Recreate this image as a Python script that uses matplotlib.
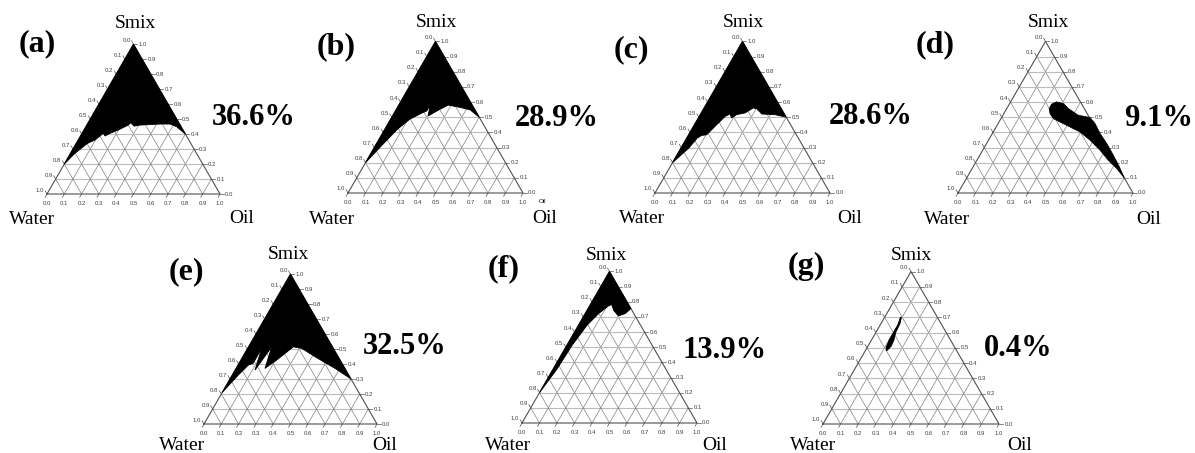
import numpy as np
import matplotlib
matplotlib.use("Agg")
import matplotlib.pyplot as plt
from matplotlib.patches import Polygon

# ---------------- data (ternary compositions: (Smix fraction, Oil fraction)) ----------------
panel_letters = ["(a)", "(b)", "(c)", "(d)", "(e)", "(f)", "(g)"]
percent_labels = ["36.6%", "28.9%", "28.6%", "9.1%", "32.5%", "13.9%", "0.4%"]
axis_ticks = [0.0, 0.1, 0.2, 0.3, 0.4, 0.5, 0.6, 0.7, 0.8, 0.9, 1.0]

region_a = [(1.0, 0.0), (0.20, 0.0), (0.27, 0.025), (0.338, 0.065), (0.36, 0.097), (0.405, 0.123),
            (0.387, 0.142), (0.405, 0.162), (0.427, 0.198), (0.46, 0.24), (0.475, 0.246),
            (0.453, 0.277), (0.46, 0.308), (0.467, 0.42), (0.467, 0.478), (0.449, 0.525),
            (0.40, 0.60)]
region_b = [(1.0, 0.0), (0.20, 0.0), (0.31, 0.035), (0.42, 0.072), (0.487, 0.11), (0.527, 0.158),
            (0.542, 0.18), (0.58, 0.179), (0.509, 0.204), (0.553, 0.25), (0.58, 0.283),
            (0.565, 0.357), (0.549, 0.423), (0.50, 0.50)]
region_c = [(1.0, 0.0), (0.20, 0.0), (0.296, 0.045), (0.362, 0.06), (0.38, 0.077), (0.384, 0.103),
            (0.439, 0.123), (0.505, 0.148), (0.521, 0.168), (0.495, 0.19), (0.517, 0.208),
            (0.528, 0.25), (0.561, 0.281), (0.556, 0.303), (0.521, 0.35), (0.517, 0.427),
            (0.50, 0.50)]
region_d = [(0.557, 0.243), (0.586, 0.242), (0.601, 0.263), (0.59, 0.307), (0.557, 0.352),
            (0.513, 0.43), (0.498, 0.505), (0.459, 0.553), (0.393, 0.615), (0.327, 0.686),
            (0.25, 0.762), (0.173, 0.835), (0.10, 0.90), (0.162, 0.826), (0.217, 0.75),
            (0.283, 0.67), (0.349, 0.58), (0.403, 0.496), (0.436, 0.422), (0.469, 0.348),
            (0.491, 0.30), (0.524, 0.264)]
region_e = [(1.0, 0.0), (0.21, 0.0), (0.327, 0.035), (0.393, 0.06), (0.405, 0.082), (0.505, 0.081),
            (0.36, 0.115), (0.515, 0.134), (0.371, 0.167), (0.427, 0.207), (0.471, 0.233),
            (0.515, 0.259), (0.505, 0.312), (0.449, 0.417), (0.371, 0.572), (0.30, 0.70)]
region_f = [(1.0, 0.0), (0.20, 0.0), (0.355, 0.022), (0.511, 0.03), (0.644, 0.049), (0.722, 0.077),
            (0.773, 0.108), (0.782, 0.123), (0.744, 0.151), (0.707, 0.198), (0.722, 0.229),
            (0.755, 0.245)]
region_g = [(0.70, 0.095), (0.66, 0.108), (0.60, 0.113), (0.55, 0.128), (0.51, 0.132), (0.48, 0.122),
            (0.50, 0.108), (0.55, 0.100), (0.60, 0.100), (0.65, 0.100), (0.70, 0.090)]
regions = [region_a, region_b, region_c, region_d, region_e, region_f, region_g]

# ---------------- layout (pixels: triangle bottom-left x, y from top, side length) ----------------
W, H = 1195, 453
tri_pos = [(47, 194, 173), (348, 193, 175), (655, 193, 175), (958, 193, 175),
           (204, 424, 173), (522, 423, 175), (823, 424, 176)]
letter_pos = [(-0.058, 0.867), (-0.065, 0.836), (-0.133, 0.817), (-0.131, 0.846),
              (-0.10, 0.88), (-0.107, 0.884), (-0.093, 0.894)]
pct_pos = [(1.197, 0.445), (1.193, 0.427), (1.234, 0.436), (1.145, 0.427),
           (1.162, 0.447), (1.16, 0.417), (1.108, 0.43)]
smix_pos = [(0.509, 0.988), (0.507, 0.973), (0.505, 0.973), (0.516, 0.973),
            (0.487, 0.977), (0.484, 0.96), (0.504, 0.96)]
water_pos = [(-0.087, -0.15), (-0.093, -0.154), (-0.076, -0.145), (-0.065, -0.154),
             (-0.129, -0.127), (-0.078, -0.126), (-0.055, -0.12)]
oil_pos = [(1.127, -0.139), (1.126, -0.145), (1.114, -0.145), (1.087, -0.154),
           (1.046, -0.127), (1.103, -0.126), (1.119, -0.125)]

plt.rcParams['font.family'] = ['Liberation Serif', 'DejaVu Serif']
R3 = np.sqrt(3) / 2


def tern(smix, oil):
    smix = np.asarray(smix, dtype=float)
    oil = np.asarray(oil, dtype=float)
    return oil + smix / 2.0, smix * R3


fig = plt.figure(figsize=(W / 100, H / 100), dpi=100)
XL, XR, YB, YT = -0.6, 1.7, -0.35, 1.2

for k in range(7):
    bx, by, L = tri_pos[k]
    left = (bx + XL * L) / W
    bottom = (H - by + YB * L) / H
    ax = fig.add_axes([left, bottom, (XR - XL) * L / W, (YT - YB) * L / H])
    ax.set_xlim(XL, XR)
    ax.set_ylim(YB, YT)
    ax.axis('off')
    ax.patch.set_alpha(0)

    # grid
    for t in axis_ticks[1:-1]:
        x, y = tern([t, t], [0, 1 - t])
        ax.plot(x, y, color='#bcbcbc', lw=0.8, zorder=1)
        x, y = tern([0, 1 - t], [t, t])
        ax.plot(x, y, color='#808080', lw=0.5, zorder=1)
        x, y = tern([1 - t, 0], [0, 1 - t])
        ax.plot(x, y, color='#808080', lw=0.5, zorder=1)
    x, y = tern([0, 0, 1, 0], [0, 1, 0, 0])
    ax.plot(x, y, color='#505050', lw=0.8, zorder=3)

    # ticks and tick labels
    tick_kw = dict(family='Liberation Sans', fontsize=4.3, color='#404040')
    tl = 0.022
    for t in axis_ticks:
        lab = f"{t:.1f}"
        # bottom (oil)
        x0, y0 = tern(0, t)
        ax.plot([x0, x0 - 0.5 * tl], [y0, y0 - R3 * tl], color='#505050', lw=0.5)
        ax.text(x0, y0 - 0.055, lab, ha='center', va='center', **tick_kw)
        # right (smix)
        x0, y0 = tern(t, 1 - t)
        ax.plot([x0, x0 + tl], [y0, y0], color='#505050', lw=0.5)
        ax.text(x0 + tl + 0.008, y0, lab, ha='left', va='center', **tick_kw)
        # left (water)
        x0, y0 = tern(1 - t, 0)
        ax.plot([x0, x0 - 0.5 * tl], [y0, y0 + R3 * tl], color='#505050', lw=0.5)
        ax.text(x0 - 0.5 * tl - 0.005, y0 + R3 * tl + 0.004, lab, ha='right', va='center', **tick_kw)

    # phase region
    reg = regions[k]
    xs, ys = tern([p[0] for p in reg], [p[1] for p in reg])
    ax.add_patch(Polygon(np.column_stack([xs, ys]), closed=True, facecolor='black',
                         edgecolor='black', lw=0.6, zorder=4))

    # labels
    ax.text(*letter_pos[k], panel_letters[k], fontsize=23, fontweight='bold', ha='center', va='center')
    ax.text(*pct_pos[k], percent_labels[k], fontsize=22, fontweight='bold', ha='center', va='center')
    ax.text(*smix_pos[k], "Smix", fontsize=14, ha='center', va='center')
    ax.text(*water_pos[k], "Water", fontsize=14, ha='center', va='center')
    ax.text(*oil_pos[k], "Oil", fontsize=14, ha='center', va='center')
    if k == 1:
        ax.text(1.109, -0.051, "Oil", family='Liberation Sans', fontsize=4.5, ha='center', va='center')

fig.savefig("out.png", dpi=100)
